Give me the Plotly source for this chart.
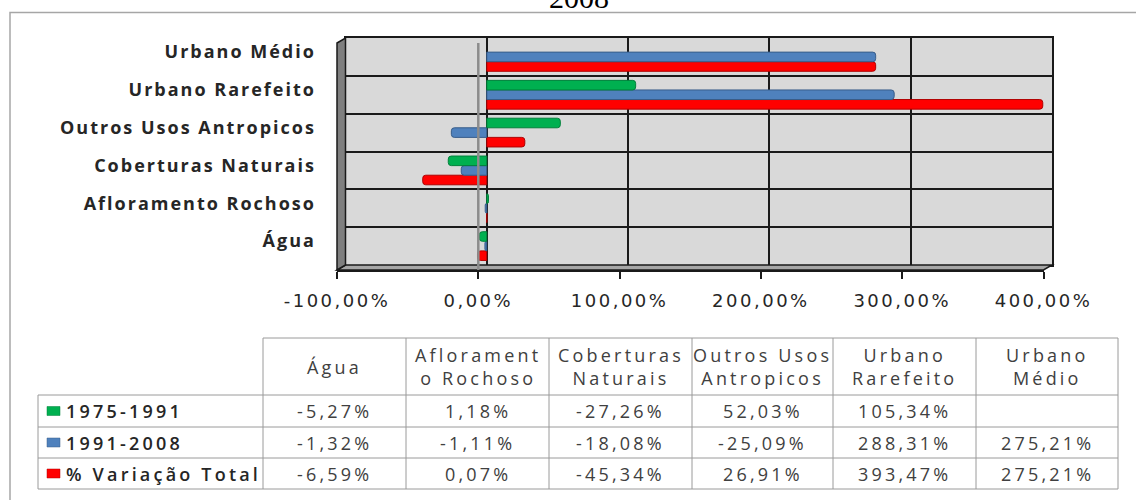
import plotly.graph_objects as go

# Land-cover classes (bottom to top on the chart, left to right in the table)
CATEGORIES = ["Água", "Afloramento Rochoso", "Coberturas Naturais",
              "Outros Usos Antropicos", "Urbano Rarefeito", "Urbano Médio"]
TABLE_HEADERS = ["Água", "Aflorament<br>o Rochoso", "Coberturas<br>Naturais",
                 "Outros Usos<br>Antropicos", "Urbano<br>Rarefeito", "Urbano<br>Médio"]

# Percentage change per class
VAR_1975_1991 = [-5.27, 1.18, -27.26, 52.03, 105.34, None]
VAR_1991_2008 = [-1.32, -1.11, -18.08, -25.09, 288.31, 275.21]
VAR_TOTAL = [-6.59, 0.07, -45.34, 26.91, 393.47, 275.21]

SERIES_NAMES = ["1975-1991", "1991-2008", "% Variação Total"]
X_TICKS = [-100, 0, 100, 200, 300, 400]

COLORS = ["#00B050", "#4F81BD", "#FF0000"]
EDGES = ["#00803a", "#385d8a", "#b00000"]

W, H = 1136, 500


def px(x):
    return x / W


def py(y):
    return 1 - y / H


def pct(v):
    return "" if v is None else f"{v:.2f}".replace(".", ",") + "%"


def spaced(text, ls):
    return "<br>".join(f"<span style='letter-spacing:{ls}px'>{line}</span>"
                       for line in text.split("<br>"))


# back wall of the 3-D plot and the shift of its front edge
BX0, BX1, BY0, BY1 = 345.5, 1052, 38, 265
DX, DY = -8.5, 5

series = [VAR_1975_1991, VAR_1991_2008, VAR_TOTAL]

fig = go.Figure()
# drawn bottom-up inside each group: total, 1991-2008, 1975-1991
for i in (2, 1, 0):
    fig.add_trace(go.Bar(
        y=CATEGORIES, x=series[i], orientation="h", name=SERIES_NAMES[i],
        marker=dict(color=COLORS[i], line=dict(color=EDGES[i], width=1), cornerradius=3),
        showlegend=False, hoverinfo="x+y",
    ))

GRID = "#1a1a1a"
fig.update_layout(
    width=W, height=H,
    margin=dict(l=0, r=0, t=0, b=0),
    paper_bgcolor="white", plot_bgcolor="rgba(0,0,0,0)",
    barmode="group", bargap=0.24, bargroupgap=0,
    separators=",.",
    xaxis=dict(domain=[px(BX0), px(BX1)], range=[X_TICKS[0], X_TICKS[-1]],
               dtick=100, showgrid=True, gridcolor=GRID, gridwidth=2,
               showticklabels=False, showline=True, mirror=True,
               linecolor=GRID, linewidth=2, zeroline=False, anchor="y",
               automargin=False),
    yaxis=dict(domain=[py(BY1), py(BY0)], type="category",
               categoryorder="array", categoryarray=CATEGORIES,
               range=[-0.5, len(CATEGORIES) - 0.5], tickson="boundaries",
               showgrid=True, gridcolor=GRID, gridwidth=2,
               showline=True, mirror=True, linecolor=GRID, linewidth=2,
               ticks="", tickvals=CATEGORIES,
               ticktext=[spaced(c, 2) for c in CATEGORIES],
               ticklabelshift=-5, ticklabelstandoff=24,
               tickfont=dict(family="Open Sans", size=18, color="#262626", weight="bold"),
               zeroline=False, automargin=False),
    # front edge of the floor carries the value ticks
    xaxis2=dict(domain=[px(BX0 + DX), px(BX1 + DX)], range=[X_TICKS[0], X_TICKS[-1]],
                anchor="y2", side="bottom",
                tickvals=X_TICKS, ticktext=[spaced(pct(v), 2.5) for v in X_TICKS],
                ticks="outside", ticklen=7, tickwidth=2, tickcolor=GRID,
                showline=True, linecolor=GRID, linewidth=2,
                showgrid=False, zeroline=False,
                tickfont=dict(family="DejaVu Sans", size=18, color="#262626"),
                ticklabelstandoff=6, automargin=False),
    yaxis2=dict(domain=[py(BY1 + DY), py(BY0 + DY)], anchor="x2", range=[0, 1],
                visible=False, automargin=False),
)

shapes = []
# back wall fill
shapes.append(dict(type="rect", xref="x domain", yref="y domain", x0=0, x1=1, y0=0, y1=1,
                   fillcolor="#D9D9D9", line=dict(width=0), layer="below"))
# outer chart frame
shapes.append(dict(type="rect", xref="paper", yref="paper",
                   x0=px(10), x1=px(1145), y0=py(510), y1=py(12.5),
                   line=dict(color="#a6a6a6", width=1.5), layer="below"))
# floor of the 3-D box
floor = (f"M {px(BX0)},{py(BY1)} L {px(BX1)},{py(BY1)} "
         f"L {px(BX1 + DX)},{py(BY1 + DY)} L {px(BX0 + DX)},{py(BY1 + DY)} Z")
shapes.append(dict(type="path", xref="paper", yref="paper", path=floor,
                   fillcolor="#a6a6a6", line=dict(color=GRID, width=1.5), layer="above"))
# left side wall
wall = (f"M {px(BX0 + DX)},{py(BY0 + DY)} L {px(BX0)},{py(BY0)} "
        f"L {px(BX0)},{py(BY1)} L {px(BX0 + DX)},{py(BY1 + DY)} Z")
shapes.append(dict(type="path", xref="paper", yref="paper", path=wall,
                   fillcolor="#7f7f7f", line=dict(color=GRID, width=1.5), layer="above"))
# category axis crossing at 0 %
shapes.append(dict(type="line", xref="x2", yref="paper", x0=0, x1=0,
                   y0=py(BY1 + DY), y1=py(BY0 + DY),
                   line=dict(color="#8c8c8c", width=2.5), layer="above"))

# data table grid
COLX = [38, 263, 406, 549, 692, 833, 976, 1118]
ROWY = [338, 395, 427, 458, 489]
TLINE = dict(color="#9a9a9a", width=1)
shapes.append(dict(type="line", xref="paper", yref="paper", x0=px(COLX[1]), x1=px(COLX[-1]),
                   y0=py(ROWY[0]), y1=py(ROWY[0]), line=TLINE))
for yv in ROWY[1:]:
    shapes.append(dict(type="line", xref="paper", yref="paper", x0=px(COLX[0]), x1=px(COLX[-1]),
                       y0=py(yv), y1=py(yv), line=TLINE))
shapes.append(dict(type="line", xref="paper", yref="paper", x0=px(COLX[0]), x1=px(COLX[0]),
                   y0=py(ROWY[1]), y1=py(ROWY[-1]), line=TLINE))
for xv in COLX[1:]:
    shapes.append(dict(type="line", xref="paper", yref="paper", x0=px(xv), x1=px(xv),
                       y0=py(ROWY[0]), y1=py(ROWY[-1]), line=TLINE))

annotations = []
# title (second line only)
annotations.append(dict(text="2008", xref="paper", yref="paper", x=px(579), y=py(16),
                        xanchor="center", yanchor="bottom", showarrow=False,
                        font=dict(family="Liberation Serif", size=30, color="black")))

TFONT = dict(family="Open Sans", size=18, color="#404040")
LS = 3.2
for c, head in enumerate(TABLE_HEADERS):
    xc = (COLX[c + 1] + COLX[c + 2]) / 2
    annotations.append(dict(text=spaced(head, LS), xref="paper", yref="paper",
                            x=px(xc), y=py((ROWY[0] + ROWY[1]) / 2),
                            xanchor="center", yanchor="middle", showarrow=False, font=TFONT))

for r in range(3):
    yc = (ROWY[r + 1] + ROWY[r + 2]) / 2
    # legend key
    shapes.append(dict(type="rect", xref="paper", yref="paper",
                       x0=px(47), x1=px(60), y0=py(yc + 4.5), y1=py(yc - 4.5),
                       fillcolor=COLORS[r], line=dict(color=EDGES[r], width=0.5)))
    annotations.append(dict(text=spaced(SERIES_NAMES[r], LS), xref="paper", yref="paper",
                            x=px(64), y=py(yc), xanchor="left", yanchor="middle",
                            showarrow=False,
                            font=dict(family="Open Sans", size=18, color="#262626", weight=600)))
    for c, v in enumerate(series[r]):
        xc = (COLX[c + 1] + COLX[c + 2]) / 2
        annotations.append(dict(text=spaced(pct(v), LS), xref="paper", yref="paper",
                                x=px(xc), y=py(yc), xanchor="center", yanchor="middle",
                                showarrow=False, font=TFONT))

fig.update_layout(shapes=shapes, annotations=annotations)
fig.write_html("out.html")
